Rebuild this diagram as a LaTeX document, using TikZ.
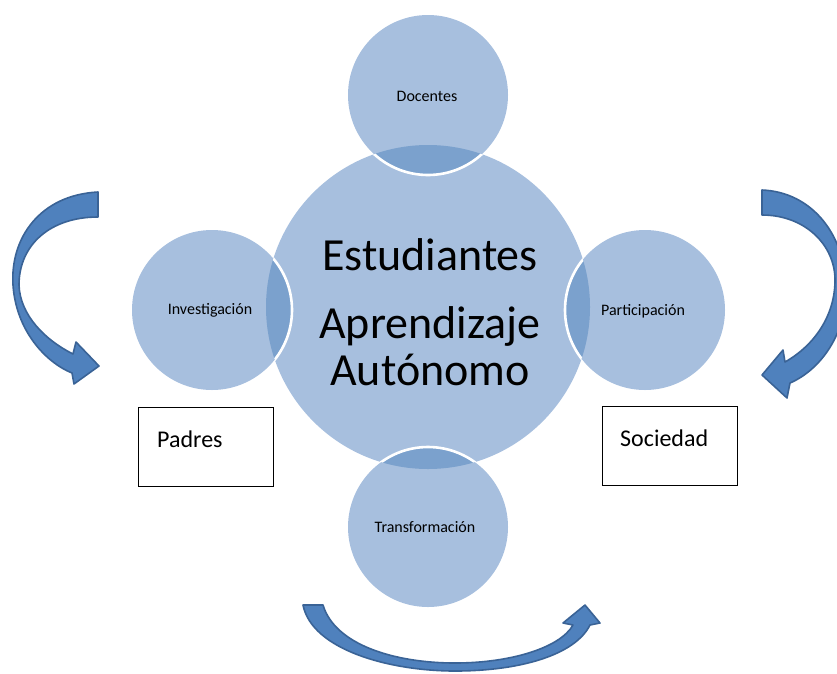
\documentclass[tikz,border=0pt]{standalone}
\usepackage{fontspec}
\setmainfont{Carlito}
\definecolor{circfill}{HTML}{A7BFDE}
\definecolor{lensfill}{HTML}{7BA1CD}
\definecolor{arrfill}{HTML}{4F81BD}
\definecolor{arrdraw}{HTML}{3A6396}
\tikzset{
  bigc/.style={circle, fill=circfill, minimum size=324pt, inner sep=0pt},
  smallc/.style={circle, fill=circfill, minimum size=160pt, inner sep=0pt},
  smalltext/.style={font=\fontsize{16}{18}\selectfont, inner sep=0pt},
  bigtext/.style={font=\fontsize{46}{50}\selectfont, inner sep=0pt, anchor=base},
  boxnode/.style={draw=black, line width=0.9pt, fill=white, minimum width=135pt, minimum height=79pt, inner sep=0pt},
  boxtext/.style={font=\fontsize{24}{28}\selectfont, inner sep=0pt, anchor=base west},
  blockarrow/.style={fill=arrfill, draw=arrdraw, line width=1.6pt, line join=round},
  whiteedge/.style={draw=white, line width=2.6pt}
}
\begin{document}
\begin{tikzpicture}[x=1pt,y=-1pt]
\useasboundingbox (0,0) rectangle (837,673);
\clip (0,0) rectangle (837,673);
% central circle
\node[bigc] (est) at (428,307) {};
% small circles
\node[smallc] (doc) at (428,95) {};
\node[smallc] (inv) at (212,310) {};
\node[smallc] (par) at (645,310) {};
\node[smallc] (tra) at (428,527) {};
% lenses
\begin{scope}
  \clip (est.center) circle (162pt);
  \fill[lensfill] (doc.center) circle (80pt);
  \fill[lensfill] (inv.center) circle (80pt);
  \fill[lensfill] (par.center) circle (80pt);
  \fill[lensfill] (tra.center) circle (80pt);
\end{scope}
% white edges of small circles over central circle
\begin{scope}
  \clip (est.center) circle (162pt);
  \draw[whiteedge] (doc.center) circle (80pt);
  \draw[whiteedge] (inv.center) circle (80pt);
  \draw[whiteedge] (par.center) circle (80pt);
  \draw[whiteedge] (tra.center) circle (80pt);
\end{scope}
% labels of small circles
\node[smalltext] (doct) at (427,96) {Docentes};
\node[smalltext] (invt) at (210,310) {Investigación};
\node[smalltext] (part) at (643,311) {Participación};
\node[smalltext] (trat) at (425,527) {Transformación};
% central texts
\node[bigtext] (t1) at (430,270) {Estudiantes};
\node[bigtext] (t2) at (430,338) {Aprendizaje};
\node[bigtext] (t3) at (430,385) {Autónomo};
% boxes
\node[boxnode] (padres) at (206,447) {};
\node[boxtext] (padrest) at (157,447) {Padres};
\node[boxnode] (soc) at (669.5,446) {};
\node[boxtext] (soct) at (620,446) {Sociedad};
% left curved arrow
\path[blockarrow] (98,192) .. controls (40,195) and (10,238) .. (13,285)
  .. controls (16,330) and (45,362) .. (72,373)
  -- (74,384) -- (99,366) -- (76,342) -- (73,354)
  .. controls (45,340) and (20,315) .. (19,285)
  .. controls (19,245) and (50,217) .. (98,217) -- cycle;
% right curved arrow
\path[blockarrow] (762,190) .. controls (812,192) and (846,235) .. (846,290)
  .. controls (846,335) and (820,370) .. (790,383)
  -- (787,398) -- (762,375) -- (783,350) -- (785,362)
  .. controls (815,345) and (835,315) .. (835,280)
  .. controls (835,245) and (805,215) .. (762,215) -- cycle;
% bottom curved arrow
\path[blockarrow] (303,605) .. controls (312,650) and (390,671) .. (455,671)
  .. controls (520,671) and (575,655) .. (590,625)
  -- (600,623) -- (585,605) -- (563,623) -- (573,625)
  .. controls (560,648) and (510,663) .. (455,663)
  .. controls (395,663) and (335,645) .. (323,605) -- cycle;
\end{tikzpicture}
\end{document}
